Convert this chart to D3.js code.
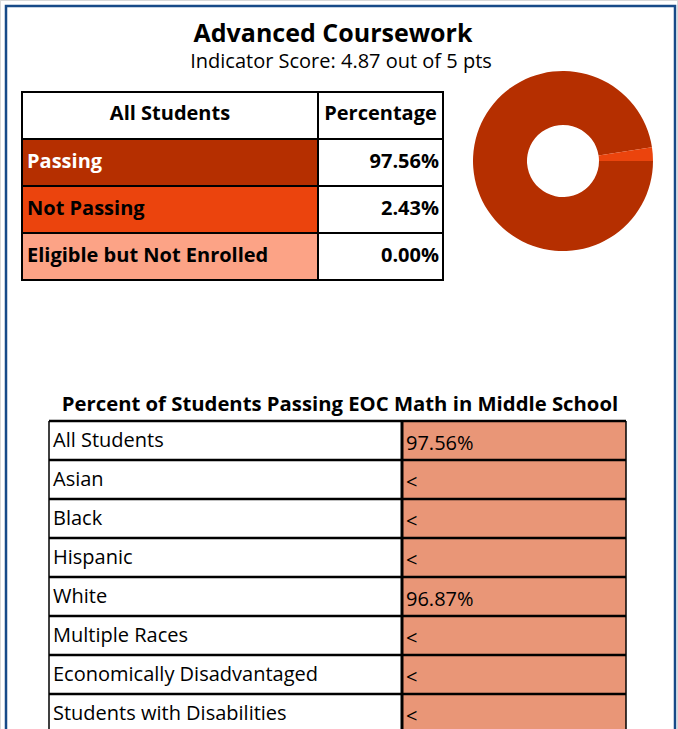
<!DOCTYPE html>
<html>
<head>
<meta charset="utf-8">
<script src="https://cdn.jsdelivr.net/npm/d3@7"></script>
<style>
  html, body { margin: 0; padding: 0; background: #fff; }
  svg { display: block; font-family: "Open Sans", "Noto Sans", sans-serif; }
</style>
</head>
<body>
<svg id="chart" width="678" height="729"></svg>
<script>
// ---- data ----
var chartTitle = "Advanced Coursework";
var chartSubtitle = "Indicator Score: 4.87 out of 5 pts";

var summaryHeader = ["All Students", "Percentage"];
var summaryCategories = ["Passing", "Not Passing", "Eligible but Not Enrolled"];
var summaryValues = [97.56, 2.43, 0.00];
var summaryColors = ["#b52f00", "#eb440d", "#fca386"];
var summaryTextColors = ["#fff", "#000", "#000"];

var groupTitle = "Percent of Students Passing EOC Math in Middle School";
var groupLabels = ["All Students", "Asian", "Black", "Hispanic", "White",
                   "Multiple Races", "Economically Disadvantaged", "Students with Disabilities"];
var groupValues = ["97.56%", "<", "<", "<", "96.87%", "<", "<", "<"];

var svg = d3.select("#chart");

// frame
svg.append("rect")
  .attr("x", 0.5).attr("y", 0.5).attr("width", 677).attr("height", 740)
  .attr("fill", "none").attr("stroke", "#d9d9d9").attr("stroke-width", 1);
svg.append("rect")
  .attr("x", 6).attr("y", 6).attr("width", 669).attr("height", 740)
  .attr("fill", "#fff").attr("stroke", "#174a88").attr("stroke-width", 2.5);

// titles
svg.append("text")
  .attr("x", 333).attr("y", 42)
  .attr("text-anchor", "middle")
  .attr("font-size", 25).attr("font-weight", "bold")
  .text(chartTitle);
svg.append("text")
  .attr("x", 341).attr("y", 68)
  .attr("text-anchor", "middle")
  .attr("font-size", 20)
  .text(chartSubtitle);

/* SUMMARY TABLE */
var t1 = { x0: 22, x1: 318, x2: 443 };
var rowY = d3.scaleBand()
  .domain(["header"].concat(summaryCategories))
  .range([92, 280]);

var summary = svg.append("g");

summary.append("rect")
  .attr("x", t1.x0).attr("y", rowY("header"))
  .attr("width", t1.x2 - t1.x0).attr("height", rowY.bandwidth())
  .attr("fill", "#fff");

summary.selectAll(".cat-cell")
  .data(summaryCategories)
  .enter().append("rect")
  .attr("class", "cat-cell")
  .attr("x", t1.x0).attr("y", function(d) { return rowY(d); })
  .attr("width", t1.x1 - t1.x0).attr("height", rowY.bandwidth())
  .attr("fill", function(d, i) { return summaryColors[i]; });

summary.selectAll(".val-cell")
  .data(summaryCategories)
  .enter().append("rect")
  .attr("class", "val-cell")
  .attr("x", t1.x1).attr("y", function(d) { return rowY(d); })
  .attr("width", t1.x2 - t1.x1).attr("height", rowY.bandwidth())
  .attr("fill", "#fff");

// grid lines
rowY.domain().concat(["end"]).forEach(function(d, i) {
  var y = i < rowY.domain().length ? rowY(d) : rowY.range()[1];
  summary.append("line")
    .attr("x1", t1.x0).attr("x2", t1.x2).attr("y1", y).attr("y2", y)
    .attr("stroke", "#000").attr("stroke-width", 2);
});
[t1.x0, t1.x1, t1.x2].forEach(function(x) {
  summary.append("line")
    .attr("x1", x).attr("x2", x).attr("y1", rowY.range()[0] - 1).attr("y2", rowY.range()[1] + 1)
    .attr("stroke", "#000").attr("stroke-width", 2);
});

summary.append("text")
  .attr("x", (t1.x0 + t1.x1) / 2).attr("y", rowY("header") + 28)
  .attr("text-anchor", "middle").attr("font-size", 20).attr("font-weight", "bold")
  .text(summaryHeader[0]);
summary.append("text")
  .attr("x", (t1.x1 + t1.x2) / 2).attr("y", rowY("header") + 28)
  .attr("text-anchor", "middle").attr("font-size", 20).attr("font-weight", "bold")
  .text(summaryHeader[1]);

summary.selectAll(".cat-label")
  .data(summaryCategories)
  .enter().append("text")
  .attr("class", "cat-label")
  .attr("x", t1.x0 + 5).attr("y", function(d) { return rowY(d) + 29; })
  .attr("font-size", 20).attr("font-weight", "bold")
  .attr("fill", function(d, i) { return summaryTextColors[i]; })
  .text(function(d) { return d; });

summary.selectAll(".val-label")
  .data(summaryValues)
  .enter().append("text")
  .attr("class", "val-label")
  .attr("x", t1.x2 - 4).attr("y", function(d, i) { return rowY(summaryCategories[i]) + 29; })
  .attr("text-anchor", "end").attr("font-size", 20).attr("font-weight", "bold")
  .text(function(d) { return d.toFixed(2) + "%"; });

/* DONUT */
var pie = d3.pie().sort(null)
  .startAngle(Math.PI / 2).endAngle(Math.PI / 2 + 2 * Math.PI);
var arc = d3.arc().innerRadius(36).outerRadius(90);

svg.append("g")
  .attr("transform", "translate(563,161)")
  .selectAll("path")
  .data(pie(summaryValues))
  .enter().append("path")
  .attr("d", arc)
  .attr("fill", function(d, i) { return summaryColors[i]; });

/* SUBGROUP TABLE */
var t2 = { x0: 49, x1: 402, x2: 626 };
var rowY2 = d3.scaleBand()
  .domain(groupLabels)
  .range([421, 421 + 39 * groupLabels.length]);

svg.append("text")
  .attr("x", 340).attr("y", 411)
  .attr("text-anchor", "middle").attr("font-size", 20.3).attr("font-weight", "bold")
  .text(groupTitle);

var groups = svg.append("g");

groups.selectAll(".g-val-cell")
  .data(groupLabels)
  .enter().append("rect")
  .attr("class", "g-val-cell")
  .attr("x", t2.x1).attr("y", function(d) { return rowY2(d); })
  .attr("width", t2.x2 - t2.x1).attr("height", rowY2.bandwidth())
  .attr("fill", "#e99677");

groupLabels.concat(["end"]).forEach(function(d, i) {
  var y = i < groupLabels.length ? rowY2(d) : rowY2.range()[1];
  groups.append("line")
    .attr("x1", t2.x0).attr("x2", t2.x2).attr("y1", y).attr("y2", y)
    .attr("stroke", "#000").attr("stroke-width", 2.5);
});
groups.append("line")
  .attr("x1", t2.x0).attr("x2", t2.x0).attr("y1", rowY2.range()[0]).attr("y2", rowY2.range()[1])
  .attr("stroke", "#000").attr("stroke-width", 1.5);
groups.append("line")
  .attr("x1", t2.x1).attr("x2", t2.x1).attr("y1", rowY2.range()[0]).attr("y2", rowY2.range()[1])
  .attr("stroke", "#000").attr("stroke-width", 3);
groups.append("line")
  .attr("x1", t2.x2).attr("x2", t2.x2).attr("y1", rowY2.range()[0]).attr("y2", rowY2.range()[1])
  .attr("stroke", "#000").attr("stroke-width", 1.5);

groups.selectAll(".g-label")
  .data(groupLabels)
  .enter().append("text")
  .attr("class", "g-label")
  .attr("x", t2.x0 + 4).attr("y", function(d) { return rowY2(d) + 26; })
  .attr("font-size", 20)
  .text(function(d) { return d; });

groups.selectAll(".g-value")
  .data(groupValues)
  .enter().append("text")
  .attr("class", "g-value")
  .attr("x", t2.x1 + 4).attr("y", function(d, i) { return rowY2(groupLabels[i]) + 29; })
  .attr("font-size", 20)
  .text(function(d) { return d; });
</script>
</body>
</html>
